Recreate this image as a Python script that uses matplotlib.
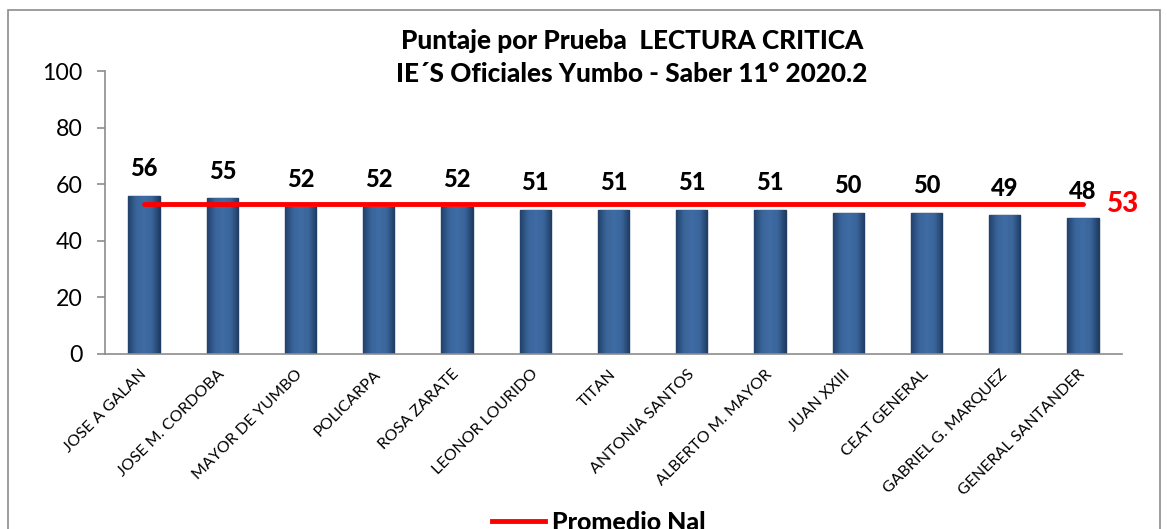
import matplotlib
matplotlib.use("Agg")
import numpy as np
import matplotlib.pyplot as plt
from matplotlib.lines import Line2D
from matplotlib.patches import Rectangle
from matplotlib.colors import LinearSegmentedColormap

plt.rcParams['font.family'] = ['Lato', 'DejaVu Sans']

schools = ["JOSE A GALAN", "JOSE M. CORDOBA", "MAYOR DE YUMBO", "POLICARPA",
           "ROSA ZARATE", "LEONOR LOURIDO", "TITAN", "ANTONIA SANTOS",
           "ALBERTO M. MAYOR", "JUAN XXIII", "CEAT GENERAL", "GABRIEL G. MARQUEZ",
           "GENERAL SANTANDER"]
scores = [56, 55, 52, 52, 52, 51, 51, 51, 51, 50, 50, 49, 48]
national_avg = 53
yticks = [0, 20, 40, 60, 80, 100]
title = "Puntaje por Prueba  LECTURA CRITICA\nIE´S Oficiales Yumbo - Saber 11° 2020.2"

W, H = 1167, 529
fig = plt.figure(figsize=(W / 100, H / 100), dpi=100)
fig.patch.set_facecolor('white')

# chart border
fig.add_artist(Rectangle((8 / W, -0.05), (1160 - 8) / W, 1.05 - 10 / H,
                         transform=fig.transFigure, fill=False,
                         edgecolor='#8c8c8c', linewidth=1.2))

ax = fig.add_axes([105 / W, 1 - 354 / H, (1122 - 105) / W, (354 - 71) / H])
x = list(range(len(schools)))
bars = ax.bar(x, scores, width=0.4, color='#3B6699', edgecolor='#1f3d63',
              linewidth=1.0, zorder=2)

# horizontal shading inside each bar (bevel look)
cmap = LinearSegmentedColormap.from_list(
    'bevel', ['#22416b', '#3a659b', '#3f6ca4', '#3a659b', '#1f3c63'])
grad = np.linspace(0, 1, 64).reshape(1, -1)
for b in bars:
    bx, by = b.get_x(), b.get_y()
    bw, bh = b.get_width(), b.get_height()
    im = ax.imshow(grad, cmap=cmap, aspect='auto', extent=(bx, bx + bw, by, by + bh),
                   zorder=2.1, interpolation='bicubic')
    im.set_clip_path(b)
ax.set_aspect('auto')

ax.plot([x[0], x[-1]], [national_avg] * 2, color='#FF0000', linewidth=3.5,
        solid_capstyle='round', zorder=3)

for xi, v in zip(x, scores):
    ax.annotate(str(v), (xi, v), xytext=(0, 19.5), textcoords='offset points',
                ha='center', va='center', fontsize=17, fontweight='black', color='black')

ax.annotate(str(national_avg), (x[-1], national_avg), xytext=(17, 0),
            textcoords='offset points', ha='left', va='center',
            fontsize=20, fontweight='black', color='#FF0000')

ax.set_xlim(-0.5, len(schools) - 0.5)
ax.set_ylim(0, 100)
ax.set_yticks(yticks)
ax.set_yticklabels([str(t) for t in yticks], fontsize=16.7)
ax.set_xticks(x)
ax.set_xticklabels(schools, rotation=45, ha='right', va='center',
                   rotation_mode='anchor', fontsize=11.5)
ax.tick_params(axis='x', length=0, pad=13)
ax.tick_params(axis='y', length=6, color='#8c8c8c', width=1.2, pad=10)
for s in ['top', 'right']:
    ax.spines[s].set_visible(False)
for s in ['left', 'bottom']:
    ax.spines[s].set_color('#8c8c8c')
    ax.spines[s].set_linewidth(1.2)

fig.text(632 / W, 1 - 57.5 / H, title, ha='center', va='center',
         fontsize=18.8, fontweight='black', linespacing=1.45)

handle = Line2D([0], [0], color='#FF0000', linewidth=3.5)
fig.legend([handle], ['Promedio Nal'], loc='center', bbox_to_anchor=(599 / W, 1 - 522 / H),
           frameon=False, prop={'size': 18, 'weight': 'black'}, handlelength=2.1,
           handletextpad=0.3, borderpad=0, borderaxespad=0)

fig.savefig('out.png', dpi=100)
